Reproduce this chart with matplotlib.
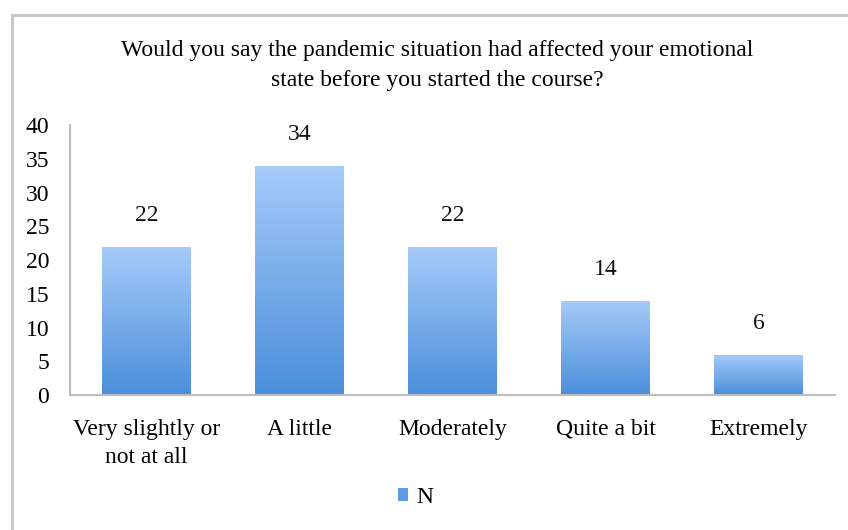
import numpy as np
import matplotlib.pyplot as plt
from matplotlib.patches import Rectangle, Patch
from matplotlib.colors import LinearSegmentedColormap

categories = ["Very slightly or\nnot at all", "A little", "Moderately", "Quite a bit", "Extremely"]
counts = [22, 34, 22, 14, 6]
yticks = [0, 5, 10, 15, 20, 25, 30, 35, 40]
title = "Would you say the pandemic situation had affected your emotional\nstate before you started the course?"

plt.rcParams['font.family'] = ['Liberation Serif', 'DejaVu Serif']
fs = 17

fig = plt.figure(figsize=(8.48, 5.3), dpi=100)
ax = fig.add_axes([0.0825, 0.2547, 0.9025, 0.5094])

# grey frame around the chart, like the pasted Excel object
fig.patches.append(Rectangle((0.0145, -0.2), 1.2, 1.172, transform=fig.transFigure,
                             fill=False, edgecolor='#c9c9c9', linewidth=2.2))

grad = LinearSegmentedColormap.from_list('bar', ['#4a8fda', '#a7cbfa'])
x = np.arange(len(categories))
bars = ax.bar(x, counts, width=0.58, color='none', edgecolor='none')
g = np.linspace(0, 1, 256).reshape(-1, 1)
for b in bars:
    x0, y0, w, h = b.get_x(), b.get_y(), b.get_width(), b.get_height()
    im = ax.imshow(g, cmap=grad, origin='lower', aspect='auto',
                   extent=[x0, x0 + w, y0, y0 + h], zorder=2)
    im.set_clip_path(b)

for xi, v in zip(x, counts):
    ax.annotate(str(v), (xi, v), xytext=(0, 15), textcoords='offset points',
                ha='center', va='bottom', fontsize=fs, color='#111111')

ax.set_xlim(-0.5, len(categories) - 0.5)
ax.set_ylim(0, 40)
ax.set_yticks(yticks)
ax.set_xticks(x)
ax.set_xticklabels(categories, fontsize=fs, linespacing=1.45)
ax.tick_params(axis='y', length=0, pad=15, labelsize=fs)
ax.tick_params(axis='x', length=0, pad=17)
for s in ['top', 'right']:
    ax.spines[s].set_visible(False)
for s in ['left', 'bottom']:
    ax.spines[s].set_color('#bdbdbd')
    ax.spines[s].set_linewidth(1.5)

fig.text(0.516, 0.876, title, ha='center', va='center', fontsize=fs, linespacing=1.55)

fig.legend(handles=[Patch(facecolor='#5e9de4', edgecolor='none', label='N')],
           loc='center', bbox_to_anchor=(0.49, 0.062), frameon=False, fontsize=fs,
           handlelength=0.45, handleheight=0.45, handletextpad=0.35)

fig.savefig('out.png', dpi=100)
